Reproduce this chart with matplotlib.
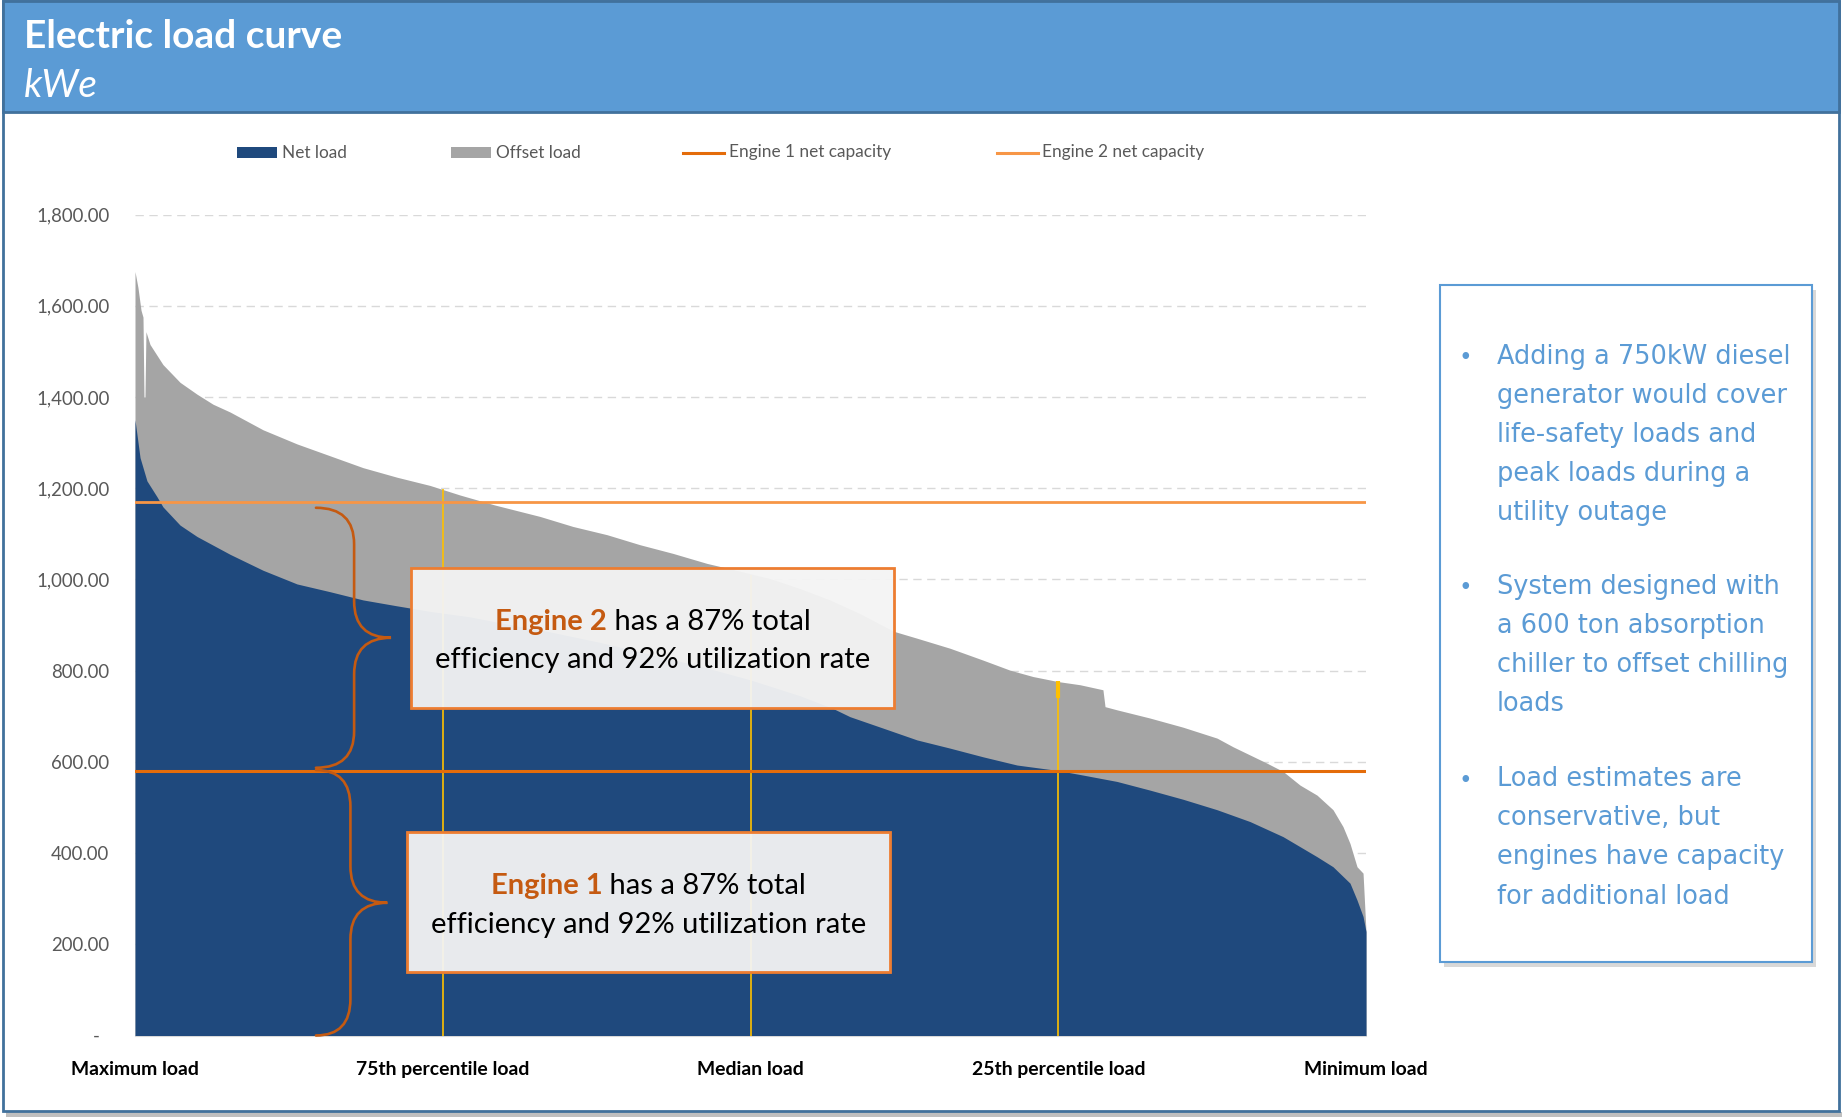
import numpy as np
import matplotlib.pyplot as plt
from matplotlib.patches import Rectangle, PathPatch
from matplotlib.path import Path
from matplotlib.lines import Line2D

# load duration curve (x = % of hours, sorted high -> low)
TOTAL_X = [0.0, 0.24, 0.49, 0.65, 0.73, 0.81, 0.89, 1.22, 2.27, 3.66, 5.04, 6.34, 7.72,
           10.40, 13.16, 15.84, 18.52, 21.28, 23.96, 26.40, 29.24, 32.90, 35.58, 38.34,
           41.02, 43.70, 46.47, 49.15, 51.58, 54.02, 56.46, 58.90, 61.66, 63.53, 66.21,
           68.89, 71.08, 72.95, 74.98, 76.77, 78.63, 78.80, 79.77, 82.45, 85.13, 87.90,
           89.20, 90.58, 91.96, 93.26, 94.64, 96.02, 97.32, 98.13, 98.70, 99.27, 99.76, 100.0]
TOTAL_LOAD = [1675, 1640, 1590, 1575, 1400, 1400, 1543, 1515, 1471, 1432, 1406, 1384, 1367,
              1328, 1297, 1271, 1245, 1224, 1206, 1185, 1163, 1138, 1116, 1098,
              1076, 1057, 1035, 1018, 1002, 980, 955, 925, 886, 871, 849,
              823, 801, 787, 776, 769, 758, 721, 714, 696, 676, 652,
              633, 615, 597, 579, 549, 527, 495, 458, 421, 370, 356, 228]

NET_X = [0.0, 0.41, 0.97, 1.79, 2.27, 3.66, 5.04, 7.72, 10.40, 13.16, 15.84, 18.52, 21.28,
         23.96, 27.21, 29.65, 33.71, 37.77, 41.84, 45.90, 49.96, 54.02, 56.70, 58.08,
         60.76, 63.53, 66.21, 68.89, 71.65, 74.98, 77.01, 79.77, 82.45, 85.13, 87.90,
         90.58, 93.26, 96.02, 97.32, 98.70, 99.27, 99.76, 100.0]
NET_LOAD = [1350, 1267, 1216, 1181, 1159, 1119, 1094, 1055, 1020, 990, 973, 955, 942,
            930, 918, 905, 885, 862, 836, 810, 780, 745, 717, 699,
            674, 648, 630, 611, 593, 581, 571, 557, 538, 518, 495,
            469, 436, 392, 370, 334, 297, 261, 228]

ENGINE1_CAP = 580
ENGINE2_CAP = 1170

PCT_POS = [25, 50, 75]
PCT_LOAD = [1198, 1010, 778]
# one highlighted hour at the 25th percentile
HIGHLIGHT_X = [75]
HIGHLIGHT_LO = [740]
HIGHLIGHT_HI = [778]

XTICKS = [0, 25, 50, 75, 100]
XLABELS = ["Maximum load", "75th percentile load", "Median load",
           "25th percentile load", "Minimum load"]
YTICKS = [0, 200, 400, 600, 800, 1000, 1200, 1400, 1600, 1800]

BULLETS = [
    ["Adding a 750kW diesel", "generator would cover", "life-safety loads and",
     "peak loads during a", "utility outage"],
    ["System designed with", "a 600 ton absorption", "chiller to offset chilling", "loads"],
    ["Load estimates are", "conservative, but", "engines have capacity",
     "for additional load"],
]

NAVY = "#1F497D"
GREY = "#A5A5A5"
ORANGE1 = "#E46C0A"
ORANGE2 = "#F79646"
BRACE = "#C55A11"
GOLD = "#FFC000"
HEAD = "#5B9BD5"
FRAME = "#41719C"
FONT = "Lato"

W, H = 1845, 1117
fig = plt.figure(figsize=(W / 100, H / 100), dpi=100)
fig.patch.set_facecolor("white")
renderer = fig.canvas.get_renderer()


def fit(text, px, **kw):
    # font size giving the wanted pixel width
    t = fig.text(0, 0, text, fontsize=10, **kw)
    w = t.get_window_extent(renderer).width
    t.remove()
    return 10 * px / w


fs_title = fit("Electric load curve", 320, family=FONT, weight="bold")
fs_unit = fit("kWe", 74, family=FONT, style="italic")
fs_leg = fit("Net load", 65, family=FONT)
fs_ytick = fit("1,800.00", 73, family=FONT)
fs_xtick = fit("Maximum load", 128, family=FONT, weight="bold")
fs_box = fit("efficiency and 92% utilization rate", 436, family=FONT)
fs_side = fit("Adding a 750kW diesel", 293, family="DejaVu Sans")

# ---- main chart ----
ax = fig.add_axes([135 / W, 1 - 1035.5 / H, 1231 / W, 821 / H])
ax.fill_between(TOTAL_X, 0, TOTAL_LOAD, color=GREY, lw=0, zorder=2)
ax.fill_between(NET_X, 0, NET_LOAD, color=NAVY, lw=0, zorder=3)
ax.vlines(PCT_POS, 0, PCT_LOAD, color=GOLD, lw=1.2, zorder=4)
ax.vlines(HIGHLIGHT_X, HIGHLIGHT_LO, HIGHLIGHT_HI, color=GOLD, lw=3, zorder=4)
ax.axhline(ENGINE1_CAP, color=ORANGE1, lw=2.2, zorder=5)
ax.axhline(ENGINE2_CAP, color=ORANGE2, lw=2.0, zorder=5)

ax.set_xlim(0, 100)
ax.set_ylim(0, 1800)
ax.set_yticks(YTICKS)
ax.set_yticklabels(["-  " if v == 0 else f"{v:,.2f}" for v in YTICKS],
                   fontsize=fs_ytick, family=FONT, color="#595959")
ax.set_xticks(XTICKS)
ax.set_xticklabels(XLABELS, fontsize=fs_xtick, family=FONT, weight="bold", color="black")
ax.tick_params(axis="y", length=0, pad=18.5)
ax.tick_params(axis="x", length=0, pad=18.5)
ax.grid(axis="y", color="#D9D9D9", lw=1, ls=(0, (6, 4)), zorder=0)
ax.set_axisbelow(True)
for s in ["top", "right", "left"]:
    ax.spines[s].set_visible(False)
ax.spines["bottom"].set_color("#D9D9D9")


def brace(x0, xs, xt, y_top, y_bot, r):
    ym = (y_top + y_bot) / 2
    verts = [(x0, y_top), (xs, y_top), (xs, y_top - r), (xs, ym + r),
             (xs, ym), (xt, ym), (xs, ym), (xs, ym - r), (xs, y_bot + r),
             (xs, y_bot), (x0, y_bot)]
    codes = [Path.MOVETO, Path.CURVE3, Path.CURVE3, Path.LINETO,
             Path.CURVE3, Path.CURVE3, Path.CURVE3, Path.CURVE3, Path.LINETO,
             Path.CURVE3, Path.CURVE3]
    ax.add_patch(PathPatch(Path(verts, codes), fc="none", ec=BRACE, lw=1.9,
                           zorder=6, capstyle="round", clip_on=False))


brace(14.7, 17.8, 20.8, 1157, 587, 80)
brace(14.7, 17.5, 20.5, 582, 0, 80)

# ---- overlay in pixel coordinates ----
ov = fig.add_axes([0, 0, 1, 1], zorder=5)
ov.set_xlim(0, W)
ov.set_ylim(H, 0)
ov.axis("off")

# frame and header
ov.add_patch(Rectangle((6, 1112), 1836, 5, fc="#BFBFBF", ec="none"))
ov.add_patch(Rectangle((3, 1), 1836, 1110, fc="none", ec=FRAME, lw=2))
ov.add_patch(Rectangle((3, 1), 1836, 111, fc=HEAD, ec=FRAME, lw=2))
ov.text(24, 48, "Electric load curve", color="white", fontsize=fs_title,
        family=FONT, weight="bold", va="baseline")
ov.text(24, 97, "kWe", color="white", fontsize=fs_unit, family=FONT,
        style="italic", va="baseline")

# legend
ov.add_patch(Rectangle((237, 147), 40, 11, fc=NAVY, ec="none"))
ov.text(282, 152.5, "Net load", fontsize=fs_leg, family=FONT, color="#595959", va="center")
ov.add_patch(Rectangle((451, 147), 40, 11, fc=GREY, ec="none"))
ov.text(496, 152.5, "Offset load", fontsize=fs_leg, family=FONT, color="#595959", va="center")
ov.add_line(Line2D([683, 724], [152.5, 152.5], color=ORANGE1, lw=2.2))
ov.text(729, 152.5, "Engine 1 net capacity", fontsize=fs_leg, family=FONT,
        color="#595959", va="center")
ov.add_line(Line2D([997, 1038], [152.5, 152.5], color=ORANGE2, lw=2.2))
ov.text(1042, 152.5, "Engine 2 net capacity", fontsize=fs_leg, family=FONT,
        color="#595959", va="center")


def engine_box(x0, y0, x1, y1, name, y_lines):
    ov.add_patch(Rectangle((x0, y0), x1 - x0, y1 - y0, fc="#F4F4F4", alpha=0.95,
                           ec="none"))
    ov.add_patch(Rectangle((x0, y0), x1 - x0, y1 - y0, fc="none", ec="#ED7D31", lw=2))
    xc = (x0 + x1) / 2
    t1 = ov.text(0, y_lines[0], name, fontsize=fs_box, family=FONT, weight="bold",
                 color=BRACE, va="baseline")
    t2 = ov.text(0, y_lines[0], " has a 87% total", fontsize=fs_box, family=FONT,
                 color="black", va="baseline")
    w1 = t1.get_window_extent(renderer).width
    w2 = t2.get_window_extent(renderer).width
    t1.set_x(xc - (w1 + w2) / 2)
    t2.set_x(xc - (w1 + w2) / 2 + w1)
    ov.text(xc, y_lines[1], "efficiency and 92% utilization rate", fontsize=fs_box,
            family=FONT, color="black", ha="center", va="baseline")


engine_box(411, 568, 894, 708, "Engine 2", [630, 668])
engine_box(407, 832, 890, 972, "Engine 1", [894, 933])

# side text box
ov.add_patch(Rectangle((1444, 290), 372, 677, fc="#C8C8C8", ec="none", alpha=0.7))
ov.add_patch(Rectangle((1440, 285), 372, 677, fc="white", ec=HEAD, lw=1.5))
para_top = [364, 594, 786.5]
for lines, y0 in zip(BULLETS, para_top):
    ov.text(1465, y0, "\u2022", fontsize=fs_side * 0.9, family="DejaVu Sans",
            color=HEAD, va="baseline", ha="center")
    for i, line in enumerate(lines):
        ov.text(1497, y0 + 39 * i, line, fontsize=fs_side, family="DejaVu Sans",
                color=HEAD, va="baseline")

fig.savefig("out.png", dpi=100)
